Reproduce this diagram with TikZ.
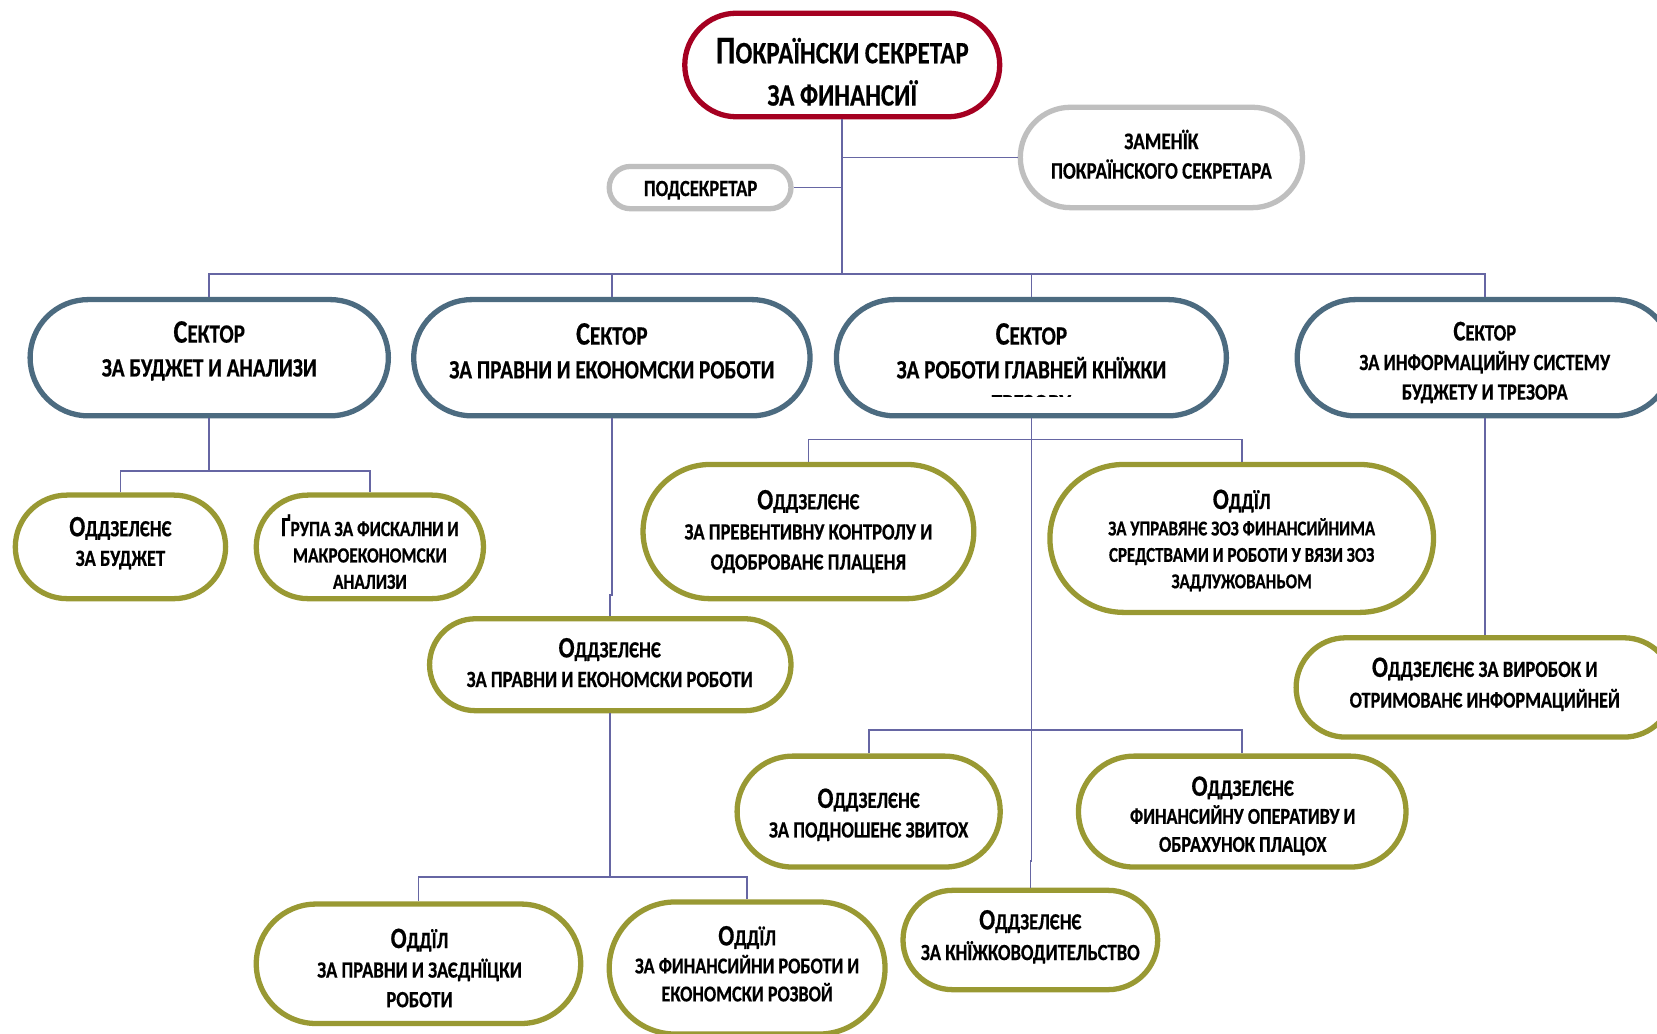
\documentclass[tikz,border=0pt]{standalone}
\usepackage{fontspec}
\setmainfont{Carlito}[FakeStretch=0.8, BoldFeatures={FakeBold=0.5}]
\definecolor{cred}{RGB}{165,0,33}
\definecolor{cgray}{RGB}{191,191,191}
\definecolor{cblue}{RGB}{76,107,128}
\definecolor{colive}{RGB}{153,153,51}
\definecolor{cline}{RGB}{102,102,163}
\newcommand\hd[4]{{\fontsize{#1}{#1}\selectfont #2}{\fontsize{#3}{#3}\selectfont #4}}
\newcommand\fz[2]{\fontsize{#1}{#2}\selectfont}
\tikzset{
  bx/.style n args={3}{draw=#3, line width=5pt, fill=white, rectangle, inner sep=0pt,
    minimum width={(#1-5)*1pt}, minimum height={(#2-5)*1pt},
    rounded corners={(#2-5)/2*1pt-0.01pt}},
  conn/.style={draw=cline, line width=1.6pt},
  txt/.style={align=center, inner sep=0pt, font=\bfseries},
}
\begin{document}
\begin{tikzpicture}[x=1pt,y=-1pt]
\useasboundingbox (0,0) rectangle (1568,978);
\fill[white] (0,0) rectangle (1568,978);
\clip (0,0) rectangle (1568,978);
% boxes
\node[bx={303}{103}{cred}] (top) at (797,61.5) {};
\node[bx={272}{100}{cgray}] (zam) at (1099,149) {};
\node[bx={177}{45}{cgray}] (pod) at (662.5,177.5) {};
\node[bx={344}{115}{cblue}] (s1) at (198,338.5) {};
\node[bx={380}{115}{cblue}] (s2) at (579,338.5) {};
\node[bx={374}{115}{cblue}] (s3) at (976,338.5) {};
\node[bx={360}{115}{cblue}] (s4) at (1405,338.5) {};
\node[bx={204}{103}{colive}] (a1) at (114,517.5) {};
\node[bx={220}{103}{colive}] (a2) at (350,517.5) {};
\node[bx={347}{92}{colive}] (b1) at (577.5,629) {};
\node[bx={318}{132}{colive}] (d1) at (765,503) {};
\node[bx={368}{145}{colive}] (d2) at (1175,509.5) {};
\node[bx={362}{99}{colive}] (g1) at (1405,650.5) {};
\node[bx={254}{110}{colive}] (d3) at (822,768) {};
\node[bx={315}{110}{colive}] (d4) at (1175.5,768) {};
\node[bx={246}{99}{colive}] (e5) at (975,889.5) {};
\node[bx={312}{118}{colive}] (f1) at (396,912) {};
\node[bx={266}{130}{colive}] (f2) at (707,916) {};
% texts
\node[txt,font=\bfseries\fz{29.5}{40}] (topt) at (797,68) {\hd{37}{П}{29.5}{ОКРАЇНСКИ СЕКРЕТАР}\\ЗА ФИНАНСИЇ};
\node[txt,font=\bfseries\fz{22.5}{28}] (zamt) at (1099,146) {ЗАМЕНЇК\\ПОКРАЇНСКОГО СЕКРЕТАРА};
\node[txt,font=\bfseries\fz{22}{28}] (podt) at (663,180) {ПОДСЕКРЕТАР};
\node[txt,font=\bfseries\fz{25}{32}] (s1t) at (198,332) {\hd{31}{С}{25}{ЕКТОР}\\ЗА БУДЖЕТ И АНАЛИЗИ};
\node[txt,font=\bfseries\fz{25}{32}] (s2t) at (579,332) {\hd{31}{С}{25}{ЕКТОР}\\ЗА ПРАВНИ И ЕКОНОМСКИ РОБОТИ};
\begin{scope}
\clip (789,281) rectangle (1163,375);
\node[txt,font=\bfseries\fz{25}{32}] (s3t) at (976,348) {\hd{31}{С}{25}{ЕКТОР}\\ЗА РОБОТИ ГЛАВНЕЙ КНЇЖКИ\\ТРЕЗОРУ};
\end{scope}
\node[txt,font=\bfseries\fz{22}{28}] (s4t) at (1405,343) {\hd{27}{С}{22}{ЕКТОР}\\ЗА ИНФОРМАЦИЙНУ СИСТЕМУ\\БУДЖЕТУ И ТРЕЗОРА};
\node[txt,font=\bfseries\fz{22}{28}] (a1t) at (114,514) {\hd{28}{О}{22}{ДДЗЕЛЄНЄ}\\ЗА БУДЖЕТ};
\node[txt,font=\bfseries\fz{20.5}{25}] (a2t) at (350,522) {\hd{26}{Ґ}{20.5}{РУПА ЗА ФИСКАЛНИ И}\\МАКРОЕКОНОМСКИ\\АНАЛИЗИ};
\node[txt,font=\bfseries\fz{22}{28}] (b1t) at (577,627) {\hd{28}{О}{22}{ДДЗЕЛЄНЄ}\\ЗА ПРАВНИ И ЕКОНОМСКИ РОБОТИ};
\node[txt,font=\bfseries\fz{22}{28.5}] (d1t) at (765,503) {\hd{28}{О}{22}{ДДЗЕЛЄНЄ}\\ЗА ПРЕВЕНТИВНУ КОНТРОЛУ И\\ОДОБРОВАНЄ ПЛАЦЕНЯ};
\node[txt,font=\bfseries\fz{20}{25}] (d2t) at (1175,511.5) {\hd{28}{О}{22}{ДДЇЛ}\\ЗА УПРАВЯНЄ ЗОЗ ФИНАНСИЙНИМА\\СРЕДСТВАМИ И РОБОТИ У ВЯЗИ ЗОЗ\\ЗАДЛУЖОВАНЬОМ};
\node[txt,font=\bfseries\fz{21.5}{29}] (g1t) at (1405,647.5) {\hd{28}{О}{22}{ДДЗЕЛЄНЄ ЗА ВИРОБОК И}\\ОТРИМОВАНЄ ИНФОРМАЦИЙНЕЙ};
\node[txt,font=\bfseries\fz{22}{28}] (d3t) at (822,771) {\hd{28}{О}{22}{ДДЗЕЛЄНЄ}\\ЗА ПОДНОШЕНЄ ЗВИТОХ};
\node[txt,font=\bfseries\fz{21.5}{26.5}] (d4t) at (1176,772) {\hd{28}{О}{22}{ДДЗЕЛЄНЄ}\\ФИНАНСИЙНУ ОПЕРАТИВУ И\\ОБРАХУНОК ПЛАЦОХ};
\node[txt,font=\bfseries\fz{22}{29}] (e5t) at (975,886.5) {\hd{28}{О}{22}{ДДЗЕЛЄНЄ}\\ЗА КНЇЖКОВОДИТЕЛЬСТВО};
\node[txt,font=\bfseries\fz{22}{28}] (f1t) at (397,916) {\hd{28}{О}{22}{ДДЇЛ}\\ЗА ПРАВНИ И ЗАЄДНЇЦКИ\\РОБОТИ};
\node[txt,font=\bfseries\fz{21.5}{26.5}] (f2t) at (707,912) {\hd{28}{О}{22}{ДДЇЛ}\\ЗА ФИНАНСИЙНИ РОБОТИ И\\ЕКОНОМСКИ РОЗВОЙ};
% connectors
\coordinate (bus) at (797,259);
\draw[conn] (top.south) -- (bus);
\draw[conn] (top.south |- zam.west) -- (zam.west);
\draw[conn] (pod.east) -- (top.south |- pod.east);
\draw[conn] (s1.north) |- (bus) -| (s4.north);
\draw[conn] (s2.north) -- (s2.north |- bus);
\draw[conn] (s3.north) -- (s3.north |- bus);
\coordinate (c1) at (198,446);
\draw[conn] (s1.south) -- (c1);
\draw[conn] (a1.north) |- (c1) -| (a2.north);
\coordinate (j2) at (579,563);
\draw[conn] (s2.south) -- (j2) -- (b1.north |- j2) -- (b1.north);
\coordinate (c2) at (577.5,830);
\draw[conn] (b1.south) -- (c2);
\draw[conn] (f1.north) |- (c2) -| (f2.north);
\coordinate (c3a) at (976,416);
\coordinate (c3b) at (976,691);
\coordinate (j3) at (976,815);
\draw[conn] (s3.south) -- (j3) -- (e5.north |- j3) -- (e5.north);
\draw[conn] (d1.north) |- (c3a) -| (d2.north);
\draw[conn] (d3.north) |- (c3b) -| (d4.north);
\draw[conn] (s4.south) -- (g1.north);
\end{tikzpicture}
\end{document}
